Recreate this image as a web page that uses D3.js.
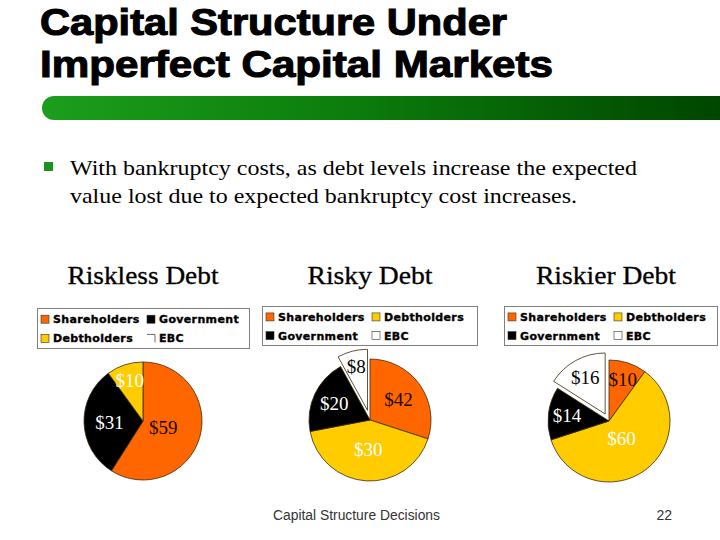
<!DOCTYPE html>
<html><head><meta charset="utf-8">
<script src="https://cdn.jsdelivr.net/npm/d3@7"></script>
<style>html,body{margin:0;padding:0;background:#fff;overflow:hidden}</style>
</head><body>
<svg id="c" width="720" height="540" xmlns="http://www.w3.org/2000/svg"></svg>
<script>
// ---- data ----
const titleLines = ["Capital Structure Under", "Imperfect Capital Markets"];
const bulletLines = ["With bankruptcy costs, as debt levels increase the expected",
                     "value lost due to expected bankruptcy cost increases."];
const chartTitles = ["Riskless Debt", "Risky Debt", "Riskier Debt"];
const categories = ["Shareholders", "Debtholders", "Government", "EBC"];
const categoryColors = ["#FF6600", "#FFCC00", "#000000", "#FFFFFF"];
const labelColors = ["#1a0800", "#FFFFFF", "#FFFFFF", "#000000"];

const risklessSeries = ["Shareholders", "Government", "Debtholders", "EBC"];
const risklessValues = [59, 31, 10, 0];
const risklessLabels = ["$59", "$31", "$10", ""];

const riskySeries = ["Shareholders", "Debtholders", "Government", "EBC"];
const riskyValues = [30, 42, 20, 8];
const riskyLabels = ["$42", "$30", "$20", "$8"];

const riskierSeries = ["Shareholders", "Debtholders", "Government", "EBC"];
const riskierValues = [10, 60, 14, 16];
const riskierLabels = ["$10", "$60", "$14", "$16"];

const footerText = "Capital Structure Decisions";
const pageNumber = "22";

// ---- layout ----
const svg = d3.select("#c");
const color = d3.scaleOrdinal().domain(categories).range(categoryColors);
const labelColor = d3.scaleOrdinal().domain(categories).range(labelColors);

const defs = svg.append("defs");
const grad = defs.append("linearGradient").attr("id", "bar").attr("x1", "0").attr("x2", "1").attr("y1", "0").attr("y2", "0");
grad.append("stop").attr("offset", "0").attr("stop-color", "#1c9e1c");
grad.append("stop").attr("offset", "0.45").attr("stop-color", "#0c7d0c");
grad.append("stop").attr("offset", "1").attr("stop-color", "#004600");

// title
const titleBase = [35, 77];
const titleWidths = [467, 513];
titleLines.forEach((t, i) => {
  svg.append("text").attr("x", 40).attr("y", titleBase[i])
    .attr("font-family", "Liberation Sans, Arial, sans-serif").attr("font-weight", "bold")
    .attr("font-size", 37).attr("textLength", titleWidths[i]).attr("lengthAdjust", "spacingAndGlyphs")
    .attr("fill", "#000").attr("stroke", "#000").attr("stroke-width", 1.1).text(t);
});

// green bar
const bx = 42, by = 96, bh = 24, br = 12;
svg.append("path")
  .attr("d", `M${bx + br},${by} H720 V${by + bh} H${bx + br} A${br},${br} 0 0 1 ${bx + br},${by}Z`)
  .attr("fill", "url(#bar)");

// bullet
svg.append("rect").attr("x", 44).attr("y", 162).attr("width", 9).attr("height", 9).attr("fill", "#1a931a");
const bulletBase = [175, 203];
const bulletWidths = [567, 507];
bulletLines.forEach((t, i) => {
  svg.append("text").attr("x", 70).attr("y", bulletBase[i])
    .attr("font-family", "Liberation Serif, Times New Roman, serif").attr("font-size", 22)
    .attr("textLength", bulletWidths[i]).attr("lengthAdjust", "spacingAndGlyphs")
    .attr("fill", "#000").text(t);
});

// charts
const charts = [
  { series: risklessSeries, values: risklessValues, labels: risklessLabels },
  { series: riskySeries, values: riskyValues, labels: riskyLabels },
  { series: riskierSeries, values: riskierValues, labels: riskierLabels }
];
const layout = [
  { cx: 143, cy: 421, r: 59, explode: 0, tx: 143, tw: 151, lx: 37, ly: 308, lw: 212, lh: 40 },
  { cx: 370, cy: 420, r: 61, explode: 10, tx: 370, tw: 125, lx: 262, ly: 306, lw: 215, lh: 39 },
  { cx: 609, cy: 421, r: 61, explode: 8, tx: 606, tw: 140, lx: 504, ly: 306, lw: 213, lh: 39 }
];

const pie = d3.pie().sort(null).value(d => d.value).startAngle(0).endAngle(2 * Math.PI);

charts.forEach((ch, ci) => {
  const L = layout[ci];
  // chart title
  svg.append("text").attr("x", L.tx).attr("y", 284).attr("text-anchor", "middle")
    .attr("font-family", "Liberation Serif, Times New Roman, serif").attr("font-size", 25)
    .attr("textLength", L.tw).attr("lengthAdjust", "spacingAndGlyphs")
    .attr("fill", "#000").attr("stroke", "#000").attr("stroke-width", 0.3).text(chartTitles[ci]);

  // legend
  const lg = svg.append("g").attr("transform", `translate(${L.lx},${L.ly})`);
  lg.append("rect").attr("x", 0.5).attr("y", 0.5).attr("width", L.lw).attr("height", L.lh)
    .attr("fill", "#fff").attr("stroke", "#808080").attr("stroke-width", 1);
  const rowY = [L.lh * 0.28, L.lh * 0.76];
  const colX = [4, 110];
  ch.series.forEach((name, k) => {
    const row = Math.floor(k / 2), col = k % 2;
    const gx = colX[col], gy = rowY[row];
    const isEmpty = ch.values[k] === 0 && name === "EBC";
    if (isEmpty) {
      lg.append("path").attr("d", `M${gx},${gy - 4} H${gx + 8} V${gy + 4}`)
        .attr("fill", "none").attr("stroke", "#444").attr("stroke-width", 0.8);
    } else {
      lg.append("rect").attr("x", gx).attr("y", gy - 4).attr("width", 8).attr("height", 8)
        .attr("fill", color(name)).attr("stroke", "#333").attr("stroke-width", 0.6);
    }
    lg.append("text").attr("x", gx + 12).attr("y", gy).attr("dy", "0.36em")
      .attr("font-family", "DejaVu Sans, Verdana, sans-serif").attr("font-weight", "bold")
      .attr("font-size", 11).attr("letter-spacing", 0.35).attr("fill", "#000")
      .attr("stroke", "#000").attr("stroke-width", 0.35).text(name);
  });

  // pie
  const data = ch.series.map((name, k) => ({ name, value: ch.values[k], label: ch.labels[k] }));
  const arcs = pie(data);
  const arc = d3.arc().innerRadius(0).outerRadius(L.r);
  const g = svg.append("g").attr("transform", `translate(${L.cx},${L.cy})`);
  arcs.forEach(a => {
    if (a.data.value === 0) return;
    const mid = (a.startAngle + a.endAngle) / 2;
    const off = a.data.name === "EBC" ? L.explode : 0;
    const ox = off * Math.sin(mid), oy = -off * Math.cos(mid);
    const sg = g.append("g").attr("transform", `translate(${ox},${oy})`);
    sg.append("path").attr("d", arc(a)).attr("fill", color(a.data.name))
      .attr("stroke", "#3a2a10").attr("stroke-width", 0.8).attr("stroke-linejoin", "round");
    const frac = (a.endAngle - a.startAngle) / (2 * Math.PI);
    const lr = L.r * Math.max(0.35, 0.8 - 0.75 * frac);
    sg.append("text").attr("x", lr * Math.sin(mid)).attr("y", -lr * Math.cos(mid)).attr("dy", "0.35em")
      .attr("text-anchor", "middle").attr("font-family", "Liberation Serif, Times New Roman, serif")
      .attr("font-size", 19).attr("fill", labelColor(a.data.name)).text(a.data.label);
  });
});

// footer
svg.append("text").attr("x", 273).attr("y", 520).attr("font-family", "Liberation Sans, Arial, sans-serif")
  .attr("font-size", 14).attr("textLength", 167).attr("lengthAdjust", "spacingAndGlyphs")
  .attr("fill", "#333").text(footerText);
svg.append("text").attr("x", 672).attr("y", 520).attr("text-anchor", "end").attr("font-family", "Liberation Sans, Arial, sans-serif")
  .attr("font-size", 14).attr("fill", "#333").text(pageNumber);
</script>
</body></html>
